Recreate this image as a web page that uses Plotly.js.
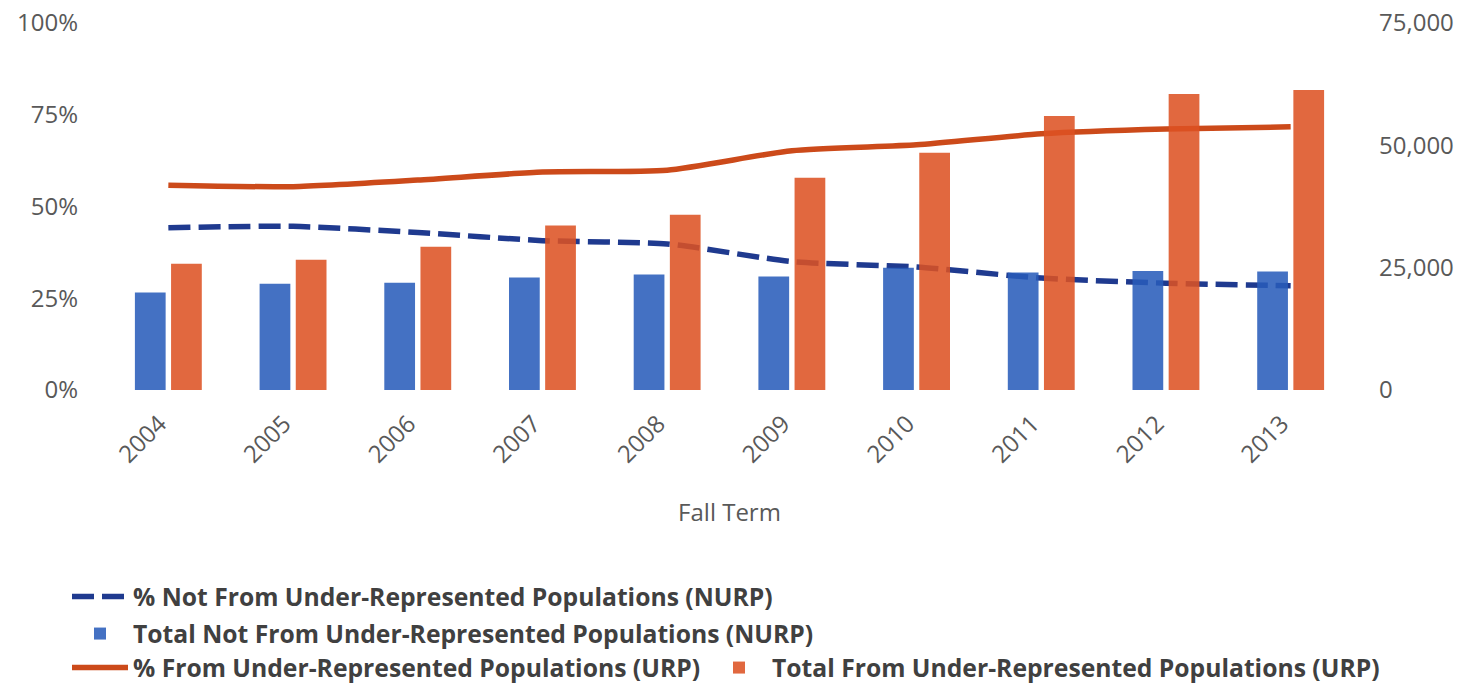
<!DOCTYPE html>
<html>
<head>
<meta charset="utf-8">
<script src="https://cdn.plot.ly/plotly-3.0.1.min.js"></script>
<style>html,body{margin:0;padding:0;background:#fff;}#chart{width:1463px;height:689px;}</style>
</head>
<body>
<div id="chart"></div>
<script>
const years = ['2004','2005','2006','2007','2008','2009','2010','2011','2012','2013'];
const pctNURP = [44.2, 44.6, 42.9, 40.7, 39.8, 35.0, 33.5, 30.5, 29.1, 28.4];
const totalNURP = [19900, 21700, 21900, 23000, 23600, 23200, 25000, 24000, 24300, 24200];
const pctURP = [55.8, 55.4, 57.2, 59.4, 59.9, 65.2, 66.8, 69.8, 71.1, 71.7];
const totalURP = [25800, 26600, 29300, 33600, 35800, 43400, 48500, 56000, 60500, 61300];
const leftTicks = [0, 25, 50, 75, 100];
const leftTickText = ['0%', '25%', '50%', '75%', '100%'];
const rightTicks = [0, 25000, 50000, 75000];
const rightTickText = ['0', '25,000', '50,000', '75,000'];

const FONT = 'Open Sans, Noto Sans, sans-serif';

const traces = [
  {
    type: 'scatter', mode: 'lines', x: years, y: pctNURP, yaxis: 'y',
    name: '% Not From Under-Represented Populations (NURP)',
    line: {color: '#1F3A8F', width: 5.5, dash: '22px,8px', shape: 'spline', smoothing: 0.6},
    legend: 'legend'
  },
  {
    type: 'bar', x: years, y: totalNURP, yaxis: 'y2',
    name: 'Total Not From Under-Represented Populations (NURP)',
    marker: {color: 'rgba(40,92,186,0.87)'},
    legend: 'legend2'
  },
  {
    type: 'scatter', mode: 'lines', x: years, y: pctURP, yaxis: 'y',
    name: '% From Under-Represented Populations (URP)',
    line: {color: '#CC4A1A', width: 5.5, shape: 'spline', smoothing: 0.6},
    legend: 'legend3'
  },
  {
    type: 'bar', x: years, y: totalURP, yaxis: 'y2',
    name: 'Total From Under-Represented Populations (URP)',
    marker: {color: 'rgba(220,82,34,0.87)'},
    legend: 'legend4'
  }
];

const legendCommon = {
  xref: 'container', yref: 'container', xanchor: 'left', yanchor: 'middle',
  orientation: 'h', bgcolor: 'rgba(0,0,0,0)',
  font: {family: FONT, size: 24.7, color: '#404040', weight: 'bold'},
  itemwidth: 56, traceorder: 'normal'
};

const layout = {
  width: 1463, height: 689,
  margin: {l: 106, r: 110, t: 23, b: 299},
  paper_bgcolor: '#ffffff', plot_bgcolor: '#ffffff',
  barmode: 'group', bargap: 0.42, bargroupgap: 0.15,
  font: {family: FONT, size: 24, color: '#595959'},
  showlegend: true,
  xaxis: {
    type: 'category', showgrid: false, zeroline: false, showline: false,
    tickangle: -45, ticks: '', tickfont: {family: FONT, size: 24, color: '#595959'},
    ticklabelstandoff: 14, ticklabelshift: -9,
    title: {text: 'Fall Term', font: {family: FONT, size: 24, color: '#595959'}, standoff: 35}
  },
  yaxis: {
    range: [0, 100], tickvals: leftTicks, ticktext: leftTickText,
    showgrid: false, zeroline: false, showline: false, ticks: '',
    tickfont: {family: FONT, size: 24, color: '#595959'},
    ticklabelstandoff: 27
  },
  yaxis2: {
    range: [0, 75000], tickvals: rightTicks, ticktext: rightTickText,
    overlaying: 'y', side: 'right',
    showgrid: false, zeroline: false, showline: false, ticks: '',
    tickfont: {family: FONT, size: 24, color: '#595959'},
    ticklabelstandoff: 25
  },
  legend: Object.assign({}, legendCommon, {x: 67/1463, y: 1 - 597/689}),
  legend2: Object.assign({}, legendCommon, {x: 67/1463, y: 1 - 634/689}),
  legend3: Object.assign({}, legendCommon, {x: 67/1463, y: 1 - 668/689}),
  legend4: Object.assign({}, legendCommon, {x: 706/1463, y: 1 - 668/689})
};

Plotly.newPlot('chart', traces, layout, {displayModeBar: false, staticPlot: true});
</script>
</body>
</html>
